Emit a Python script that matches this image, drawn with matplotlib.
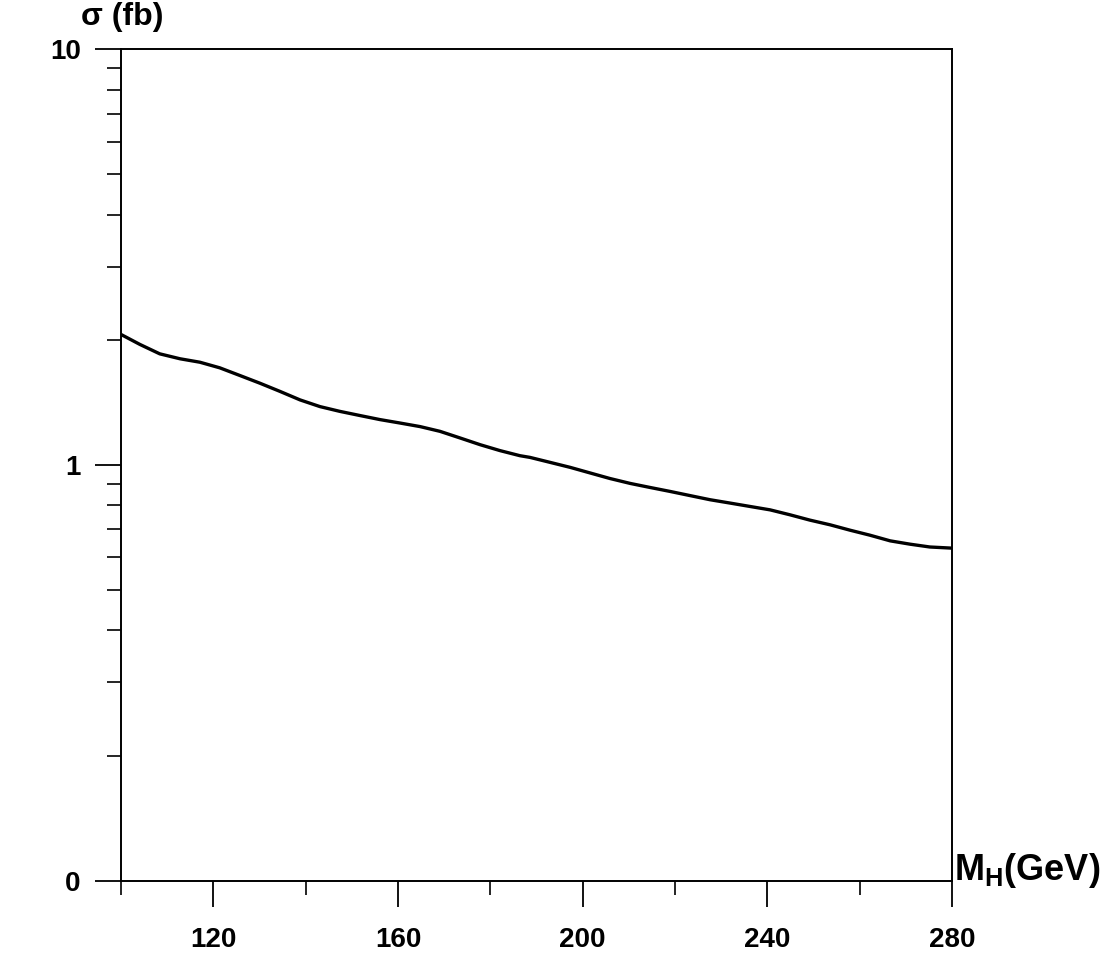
import matplotlib
matplotlib.use("Agg")
import matplotlib.pyplot as plt
from matplotlib.ticker import LogLocator, NullFormatter, MultipleLocator

plt.rcParams["font.family"] = ["Liberation Sans", "DejaVu Sans"]

# curve (M_H in GeV, sigma in fb)
m_h = [100, 104.1, 108.4, 112.8, 117.1, 121.4, 125.8, 130.1, 134.4, 138.8,
       143.1, 147.4, 151.8, 156.1, 160.4, 164.8, 169.1, 173.4, 177.8, 182.1,
       186.4, 188.6, 192.9, 197.3, 201.6, 205.9, 210.3, 214.6, 218.9, 223.3,
       227.6, 231.9, 236.2, 240.6, 244.9, 249.2, 253.6, 257.9, 262.2, 266.6,
       270.9, 275.2, 280]
sigma = [2.061, 1.950, 1.851, 1.801, 1.767, 1.713, 1.641, 1.573, 1.504, 1.434,
         1.382, 1.346, 1.315, 1.286, 1.262, 1.237, 1.205, 1.162, 1.119, 1.083,
         1.053, 1.043, 1.015, 0.987, 0.957, 0.928, 0.903, 0.883, 0.864, 0.844,
         0.825, 0.810, 0.795, 0.780, 0.759, 0.737, 0.718, 0.697, 0.678, 0.657,
         0.645, 0.635, 0.631]

x_ticks = [120, 160, 200, 240, 280]
y_ticks = [0.1, 1, 10]
y_labels = ["0", "1", "10"]

fig = plt.figure(figsize=(11.17, 9.57), dpi=100)
ax = fig.add_axes([0.1083, 0.0797, 0.7440, 0.8688])

ax.plot(m_h, sigma, color="black", lw=2.4, solid_joinstyle="round")

ax.set_yscale("log")
ax.set_xlim(100, 280)
ax.set_ylim(0.1, 10)

ax.set_xticks(x_ticks)
ax.xaxis.set_minor_locator(MultipleLocator(20))
ax.set_yticks(y_ticks, y_labels)
ax.yaxis.set_minor_locator(LogLocator(base=10, subs=range(2, 10)))
ax.yaxis.set_minor_formatter(NullFormatter())

ax.tick_params(which="major", direction="out", length=19, width=1.3,
               labelsize=20, pad=10, top=False, right=False)
ax.tick_params(which="minor", direction="out", length=10, width=1.2,
               top=False, right=False)
ax.tick_params(axis="x", which="major", pad=14)
for lab in ax.get_xticklabels() + ax.get_yticklabels():
    lab.set_fontweight("bold")

for s in ax.spines.values():
    s.set_linewidth(1.4)

fig.text(0.109, 0.982, "σ (fb)", fontsize=23, fontweight="bold",
         ha="center", va="center")
fig.text(0.854, 0.090, r"M$_\mathregular{H}$(GeV)", fontsize=26,
         fontweight="bold", ha="left", va="center")

fig.savefig("out.png", dpi=100, facecolor="white")
